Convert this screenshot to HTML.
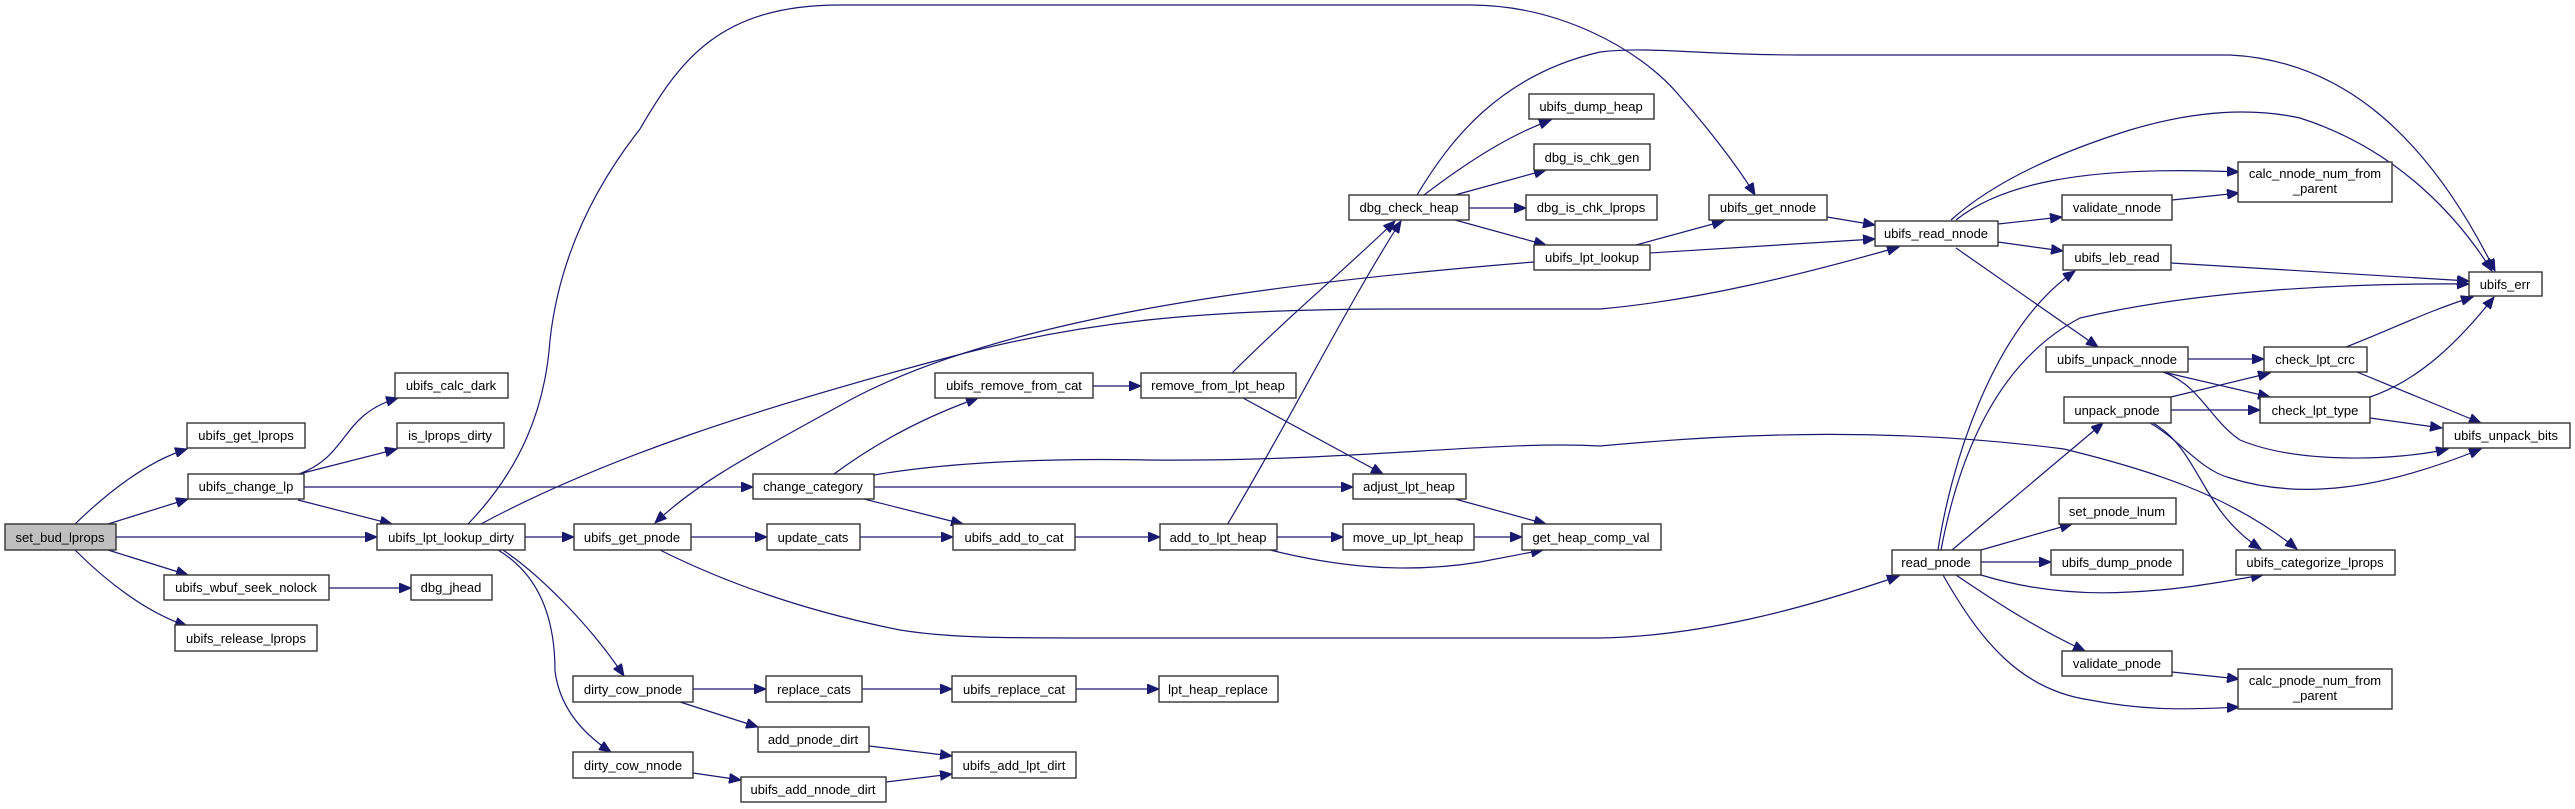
<!DOCTYPE html>
<html><head><meta charset="utf-8"><style>
html,body{margin:0;padding:0;background:#fff;width:2575px;height:809px;overflow:hidden}
svg{display:block}
text{font-family:"Liberation Sans",Arial,sans-serif;font-size:13px;fill:#000;text-anchor:middle}
.b{fill:#fff;stroke:#333;stroke-width:1.4}
.e{fill:none;stroke:#191970;stroke-width:1.2}
</style></head><body>
<svg width="2575" height="809" viewBox="0 0 2575 809" xmlns="http://www.w3.org/2000/svg">
<defs><marker id="a" markerUnits="userSpaceOnUse" markerWidth="13" markerHeight="10" refX="12" refY="5" orient="auto"><path d="M0,0 L12,5 L0,10 Z" fill="#191970" stroke="#191970"/></marker></defs>
<g class="e" marker-end="url(#a)">
<path d="M75,524 C105,495 145,462 187,449"/>
<path d="M108,524 L188,499"/>
<path d="M116,537 L377,537"/>
<path d="M108,550 L188,575"/>
<path d="M75,550 C105,580 145,612 187,626"/>
<path d="M299,474 C350,455 340,415 398,398"/>
<path d="M299,474 L397,449"/>
<path d="M304,487 L753,487"/>
<path d="M298,500 L392,524"/>
<path d="M329,588 L411,588"/>
<path d="M468,524 C520,470 545,410 550,340 C560,250 600,180 640,129 C680,60 720,5 840,5 L1470,5 C1560,5 1640,50 1677,93 C1710,130 1740,170 1755,195"/>
<path d="M479,525 C600,460 750,410 950,357 C1080,322 1200,309 1400,309 L1600,309 C1700,300 1800,275 1899,247"/>
<path d="M1534,262 C1250,285 1000,320 850,400 C760,450 700,480 655,523"/>
<path d="M1636,245 L1724,221"/>
<path d="M1650,253 L1875,239"/>
<path d="M1827,217 L1875,225"/>
<path d="M525,537 L574,537"/>
<path d="M691,537 L767,537"/>
<path d="M660,550 C720,580 800,610 900,630 C950,638 1000,638 1100,638 L1600,638 C1700,636 1800,610 1899,576"/>
<path d="M503,550 C540,575 590,625 624,676"/>
<path d="M498,550 C540,575 555,620 555,671 C560,710 585,735 611,752"/>
<path d="M693,689 L766,689"/>
<path d="M680,702 L758,727"/>
<path d="M693,773 L741,780"/>
<path d="M862,689 L952,689"/>
<path d="M1076,689 L1159,689"/>
<path d="M869,746 L952,756"/>
<path d="M886,782 L952,774"/>
<path d="M1417,195 C1450,140 1500,75 1600,52 C1650,46 1700,55 1800,55 L2230,55 C2330,60 2420,120 2495,271"/>
<path d="M1424,195 C1470,160 1510,135 1551,120"/>
<path d="M1455,195 L1546,170"/>
<path d="M1469,208 L1526,208"/>
<path d="M1455,220 L1546,245"/>
<path d="M1232,373 C1290,315 1350,265 1395,221"/>
<path d="M1227,525 C1290,420 1350,300 1401,221"/>
<path d="M1243,398 L1383,474"/>
<path d="M834,474 C880,440 930,415 978,398"/>
<path d="M1093,386 L1141,386"/>
<path d="M874,487 L1353,487"/>
<path d="M874,475 C950,462 1050,458 1150,460 C1350,462 1500,440 1600,446 C1750,432 1900,428 2064,449 C2150,470 2230,495 2297,549"/>
<path d="M864,499 L963,524"/>
<path d="M860,537 L953,537"/>
<path d="M1075,537 L1160,537"/>
<path d="M1277,537 L1343,537"/>
<path d="M1474,537 L1522,537"/>
<path d="M1455,499 L1546,524"/>
<path d="M1270,550 C1330,565 1400,575 1480,562 L1543,550"/>
<path d="M1951,220 C1990,185 2050,155 2130,130 C2180,115 2240,105 2300,118 C2400,150 2460,220 2492,271"/>
<path d="M1956,220 C2000,185 2080,165 2239,172"/>
<path d="M1998,224 L2062,217"/>
<path d="M1998,242 L2063,251"/>
<path d="M1956,248 L2098,347"/>
<path d="M2172,200 L2239,193"/>
<path d="M2171,263 L2469,281"/>
<path d="M1938,550 C1950,470 1990,330 2075,271"/>
<path d="M1941,550 C1960,450 2000,360 2080,318 C2200,290 2350,283 2469,284"/>
<path d="M1952,550 L2103,423"/>
<path d="M1981,550 L2072,524"/>
<path d="M1981,562 L2051,562"/>
<path d="M1981,575 C2030,590 2080,595 2130,592 C2180,590 2220,582 2263,575"/>
<path d="M1956,575 C2000,605 2040,630 2085,651"/>
<path d="M1943,575 C1980,640 2020,690 2090,700 C2150,712 2200,709 2239,707"/>
<path d="M2172,672 L2239,679"/>
<path d="M2188,359 L2264,359"/>
<path d="M2163,372 L2270,397"/>
<path d="M2163,372 C2200,385 2210,420 2240,440 C2300,465 2400,460 2448,449"/>
<path d="M2171,397 L2270,373"/>
<path d="M2171,410 L2260,410"/>
<path d="M2150,423 C2180,440 2200,470 2230,478 C2300,500 2380,490 2481,449"/>
<path d="M2153,423 C2200,450 2200,510 2261,549"/>
<path d="M2346,347 C2390,330 2430,310 2473,297"/>
<path d="M2357,372 L2481,423"/>
<path d="M2370,397 C2420,380 2460,340 2494,297"/>
<path d="M2370,418 L2442,428"/>
</g>
<g>
<rect x="5" y="524" width="111" height="26" fill="#bfbfbf" stroke="#333" stroke-width="1.4"/><text x="60" y="542">set_bud_lprops</text>
<rect class="b" x="187" y="423" width="118" height="25"/><text x="246" y="440">ubifs_get_lprops</text>
<rect class="b" x="188" y="474" width="116" height="25"/><text x="246" y="491">ubifs_change_lp</text>
<rect class="b" x="164" y="575" width="165" height="25"/><text x="246" y="592">ubifs_wbuf_seek_nolock</text>
<rect class="b" x="175" y="625" width="142" height="26"/><text x="246" y="643">ubifs_release_lprops</text>
<rect class="b" x="395" y="373" width="113" height="25"/><text x="451" y="390">ubifs_calc_dark</text>
<rect class="b" x="397" y="423" width="107" height="25"/><text x="450" y="440">is_lprops_dirty</text>
<rect class="b" x="377" y="524" width="148" height="26"/><text x="451" y="542">ubifs_lpt_lookup_dirty</text>
<rect class="b" x="411" y="575" width="81" height="25"/><text x="451" y="592">dbg_jhead</text>
<rect class="b" x="574" y="524" width="117" height="26"/><text x="632" y="542">ubifs_get_pnode</text>
<rect class="b" x="573" y="676" width="120" height="26"/><text x="633" y="694">dirty_cow_pnode</text>
<rect class="b" x="573" y="752" width="120" height="26"/><text x="633" y="770">dirty_cow_nnode</text>
<rect class="b" x="753" y="474" width="121" height="25"/><text x="813" y="491">change_category</text>
<rect class="b" x="767" y="524" width="93" height="26"/><text x="813" y="542">update_cats</text>
<rect class="b" x="766" y="676" width="96" height="26"/><text x="814" y="694">replace_cats</text>
<rect class="b" x="758" y="727" width="111" height="25"/><text x="813" y="744">add_pnode_dirt</text>
<rect class="b" x="741" y="777" width="145" height="25"/><text x="813" y="794">ubifs_add_nnode_dirt</text>
<rect class="b" x="935" y="373" width="158" height="25"/><text x="1014" y="390">ubifs_remove_from_cat</text>
<rect class="b" x="1141" y="373" width="155" height="25"/><text x="1218" y="390">remove_from_lpt_heap</text>
<rect class="b" x="953" y="524" width="122" height="26"/><text x="1014" y="542">ubifs_add_to_cat</text>
<rect class="b" x="1160" y="524" width="117" height="26"/><text x="1218" y="542">add_to_lpt_heap</text>
<rect class="b" x="952" y="676" width="124" height="26"/><text x="1014" y="694">ubifs_replace_cat</text>
<rect class="b" x="1159" y="676" width="119" height="26"/><text x="1218" y="694">lpt_heap_replace</text>
<rect class="b" x="952" y="752" width="124" height="26"/><text x="1014" y="770">ubifs_add_lpt_dirt</text>
<rect class="b" x="1349" y="195" width="120" height="25"/><text x="1409" y="212">dbg_check_heap</text>
<rect class="b" x="1353" y="474" width="113" height="25"/><text x="1409" y="491">adjust_lpt_heap</text>
<rect class="b" x="1343" y="524" width="131" height="26"/><text x="1408" y="542">move_up_lpt_heap</text>
<rect class="b" x="1522" y="524" width="139" height="26"/><text x="1591" y="542">get_heap_comp_val</text>
<rect class="b" x="1529" y="94" width="125" height="25"/><text x="1591" y="111">ubifs_dump_heap</text>
<rect class="b" x="1534" y="144" width="116" height="26"/><text x="1592" y="162">dbg_is_chk_gen</text>
<rect class="b" x="1526" y="195" width="131" height="25"/><text x="1591" y="212">dbg_is_chk_lprops</text>
<rect class="b" x="1534" y="245" width="116" height="25"/><text x="1592" y="262">ubifs_lpt_lookup</text>
<rect class="b" x="1709" y="195" width="118" height="25"/><text x="1768" y="212">ubifs_get_nnode</text>
<rect class="b" x="1875" y="221" width="123" height="25"/><text x="1936" y="238">ubifs_read_nnode</text>
<rect class="b" x="1892" y="550" width="89" height="25"/><text x="1936" y="567">read_pnode</text>
<rect class="b" x="2062" y="195" width="110" height="25"/><text x="2117" y="212">validate_nnode</text>
<rect class="b" x="2063" y="245" width="108" height="25"/><text x="2117" y="262">ubifs_leb_read</text>
<rect class="b" x="2046" y="347" width="142" height="25"/><text x="2117" y="364">ubifs_unpack_nnode</text>
<rect class="b" x="2064" y="397" width="107" height="26"/><text x="2117" y="415">unpack_pnode</text>
<rect class="b" x="2059" y="498" width="117" height="26"/><text x="2117" y="516">set_pnode_lnum</text>
<rect class="b" x="2051" y="550" width="132" height="25"/><text x="2117" y="567">ubifs_dump_pnode</text>
<rect class="b" x="2062" y="651" width="110" height="25"/><text x="2117" y="668">validate_pnode</text>
<rect class="b" x="2238" y="162" width="154" height="40"/><text x="2315" y="178">calc_nnode_num_from</text><text x="2315" y="193">_parent</text>
<rect class="b" x="2264" y="347" width="103" height="25"/><text x="2315" y="364">check_lpt_crc</text>
<rect class="b" x="2260" y="397" width="110" height="26"/><text x="2315" y="415">check_lpt_type</text>
<rect class="b" x="2236" y="550" width="159" height="25"/><text x="2315" y="567">ubifs_categorize_lprops</text>
<rect class="b" x="2238" y="669" width="154" height="40"/><text x="2315" y="685">calc_pnode_num_from</text><text x="2315" y="700">_parent</text>
<rect class="b" x="2469" y="272" width="73" height="24"/><text x="2505" y="289">ubifs_err</text>
<rect class="b" x="2443" y="423" width="127" height="25"/><text x="2506" y="440">ubifs_unpack_bits</text>
</g>
</svg>
</body></html>
